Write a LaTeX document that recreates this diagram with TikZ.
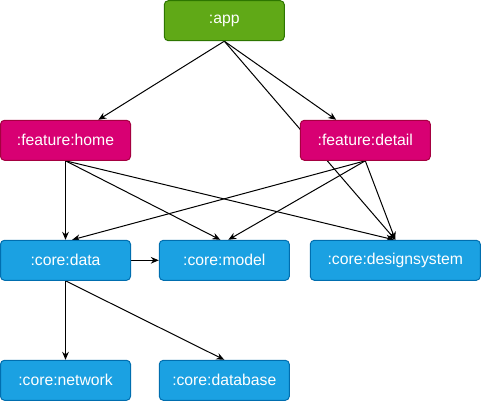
\documentclass[tikz,border=0pt]{standalone}
\usepackage{fontspec}
\setmainfont{Liberation Sans}
\usepackage{tikz}
\usetikzlibrary{arrows.meta, backgrounds}
\usepackage{xcolor}

\definecolor{appgreen}{HTML}{60A917}
\definecolor{appline}{HTML}{2D7600}
\definecolor{featpink}{HTML}{D80073}
\definecolor{featline}{HTML}{A50040}
\definecolor{coreblue}{HTML}{1BA1E2}
\definecolor{coreline}{HTML}{006EAF}

\begin{document}
\begin{tikzpicture}[x=0.75pt, y=-0.75pt,
    module/.style={draw, rounded corners=3pt, text=white, line width=0.75pt,
        minimum height=30pt, inner sep=0pt,
        font=\fontsize{11.8}{14}\selectfont},
    appmod/.style={module, fill=appgreen, draw=appline, minimum width=90pt},
    featmod/.style={module, fill=featpink, draw=featline, minimum width=97.5pt},
    coremod/.style={module, fill=coreblue, draw=coreline, minimum width=97.5pt},
    dep/.style={line width=0.75pt, -{Stealth[length=6pt, width=5pt]}}]
    \useasboundingbox (0, 0) rectangle (481, 402);

    \node[appmod] (app) at (224.3, 20.7) {:app};
    \node[featmod] (home) at (65.5, 140.3) {:feature:home};
    \node[featmod] (detail) at (365.3, 140.3) {:feature:detail};
    \node[coremod] (data) at (65.5, 260.3) {:core:data};
    \node[coremod] (model) at (224.3, 260.3) {:core:model};
    \node[coremod, minimum width=127.5pt] (design) at (395.3, 260.3) {:core:designsystem};
    \node[coremod] (network) at (65.5, 380.3) {:core:network};
    \node[coremod] (database) at (224.3, 380.3) {:core:database};

    \begin{scope}[on background layer]
        \draw[dep] (app.south) -- (home);
        \draw[dep] (app.south) -- (detail);
        \draw[dep] (app.south) -- (design.north);

        \draw[dep] (home.south) -- (data.north);
        \draw[dep] (home.south) -- ([xshift=-3pt]model.north);
        \draw[dep] (home.south) -- ([xshift=-1pt]design.north);

        \draw[dep] (detail.south) -- ([xshift=5pt]data.north);
        \draw[dep] (detail.south) -- ([xshift=3pt]model.north);
        \draw[dep] (detail.south) -- (design.north);

        \draw[dep] (data.east) -- (model.west);
        \draw[dep] (data.south) -- (network.north);
        \draw[dep] (data.south) -- (database.north);
    \end{scope}
\end{tikzpicture}
\end{document}
